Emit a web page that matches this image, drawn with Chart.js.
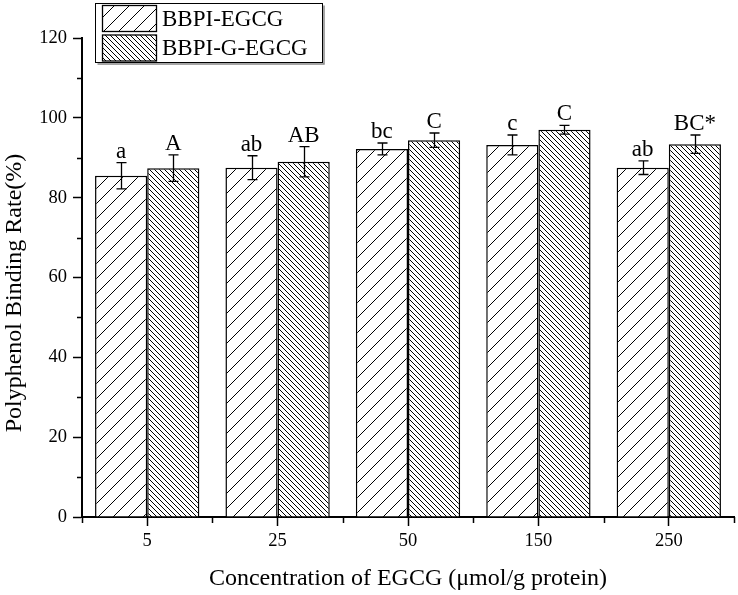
<!DOCTYPE html>
<html>
<head>
<meta charset="utf-8">
<script src="https://cdn.jsdelivr.net/npm/chart.js@4"></script>
<style>
  html, body { margin: 0; padding: 0; background: #fff; }
  #wrap { width: 738px; height: 595px; }
</style>
</head>
<body>
<div id="wrap"><canvas id="myChart" width="738" height="595"></canvas></div>
<script>
// data
var categories = ["5", "25", "50", "150", "250"];
var seriesNames = ["BBPI-EGCG", "BBPI-G-EGCG"];
var egcg = [85.5, 87.5, 92.2, 93.2, 87.5];
var egcgErr = [3.3, 3.0, 1.5, 2.5, 1.7];
var gEgcg = [87.4, 89.0, 94.4, 97.0, 93.4];
var gEgcgErr = [3.3, 3.8, 1.8, 1.1, 2.3];
var egcgLetters = ["a", "ab", "bc", "c", "ab"];
var gEgcgLetters = ["A", "AB", "C", "C", "BC*"];
var yTicks = [0, 20, 40, 60, 80, 100, 120];
var yMinorTicks = [10, 30, 50, 70, 90, 110];
var xTitle = "Concentration of EGCG (\u03bcmol/g protein)";
var yTitle = "Polyphenol Binding Rate(%)";

var serif = "'Liberation Serif', 'Times New Roman', serif";

// hatch patterns
function makeHatch(size, forward) {
  var c = document.createElement("canvas");
  c.width = size;
  c.height = size;
  var g = c.getContext("2d");
  g.fillStyle = "#fff";
  g.fillRect(0, 0, size, size);
  g.strokeStyle = "#000";
  g.lineWidth = 1;
  g.beginPath();
  if (forward) {
    g.moveTo(-1, size + 1); g.lineTo(size + 1, -1);
    g.moveTo(-1, 1); g.lineTo(1, -1);
    g.moveTo(size - 1, size + 1); g.lineTo(size + 1, size - 1);
  } else {
    g.moveTo(-1, -1); g.lineTo(size + 1, size + 1);
    g.moveTo(size - 1, -1); g.lineTo(size + 1, 1);
    g.moveTo(-1, size - 1); g.lineTo(1, size + 1);
  }
  g.stroke();
  return g.createPattern(c, "repeat");
}
var hatchA = makeHatch(15, true);
var hatchB = makeHatch(5, false);

var errors = [egcgErr, gEgcgErr];
var letters = [egcgLetters, gEgcgLetters];

// error bars, letters, minor ticks, legend, axis titles
var extras = {
  id: "extras",
  afterDatasetsDraw: function (chart) {
    var ctx = chart.ctx;
    var ys = chart.scales.y;
    ctx.save();
    ctx.strokeStyle = "#000";
    ctx.fillStyle = "#000";
    ctx.lineWidth = 1.3;
    ctx.font = "23px " + serif;
    ctx.textAlign = "center";
    ctx.textBaseline = "alphabetic";
    chart.data.datasets.forEach(function (ds, di) {
      var meta = chart.getDatasetMeta(di);
      meta.data.forEach(function (bar, i) {
        var v = ds.data[i];
        var e = errors[di][i];
        var x = Math.round(bar.x) + 0.5;
        var yt = ys.getPixelForValue(v + e);
        var yb = ys.getPixelForValue(v - e);
        ctx.beginPath();
        ctx.moveTo(x, yt); ctx.lineTo(x, yb);
        ctx.moveTo(x - 5, yt); ctx.lineTo(x + 5, yt);
        ctx.moveTo(x - 5, yb); ctx.lineTo(x + 5, yb);
        ctx.stroke();
        ctx.fillText(letters[di][i], bar.x, yt - 5);
      });
    });
    ctx.restore();
  },
  afterDraw: function (chart) {
    var ctx = chart.ctx;
    var xs = chart.scales.x;
    var ys = chart.scales.y;
    var area = chart.chartArea;
    ctx.save();
    ctx.strokeStyle = "#000";
    ctx.lineWidth = 1.5;
    // minor ticks
    ctx.beginPath();
    yMinorTicks.forEach(function (v) {
      var y = Math.round(ys.getPixelForValue(v)) + 0.5;
      ctx.moveTo(area.left - 5, y); ctx.lineTo(area.left, y);
    });
    var step = (area.right - area.left) / categories.length;
    for (var i = 0; i <= categories.length; i++) {
      var x = Math.round(area.left + i * step) + 0.5;
      ctx.moveTo(x, area.bottom); ctx.lineTo(x, area.bottom + 6);
    }
    ctx.stroke();

    // axis titles
    ctx.fillStyle = "#000";
    ctx.font = "24px " + serif;
    ctx.textAlign = "center";
    ctx.textBaseline = "middle";
    ctx.fillText(xTitle, (area.left + area.right) / 2, 579);
    ctx.save();
    ctx.translate(15, 293);
    ctx.rotate(-Math.PI / 2);
    ctx.fillText(yTitle, 0, 0);
    ctx.restore();

    // legend
    var lx = 95.5, ly = 3.5, lw = 227, lh = 59;
    ctx.strokeStyle = "#888";
    ctx.lineWidth = 1.5;
    ctx.beginPath();
    ctx.moveTo(lx + lw + 1.5, ly + 2); ctx.lineTo(lx + lw + 1.5, ly + lh + 1.5); ctx.lineTo(lx + 2, ly + lh + 1.5);
    ctx.stroke();
    ctx.fillStyle = "#fff";
    ctx.fillRect(lx, ly, lw, lh);
    ctx.strokeStyle = "#000";
    ctx.lineWidth = 1;
    ctx.strokeRect(lx, ly, lw, lh);
    var fills = [hatchA, hatchB];
    ctx.font = "23px " + serif;
    ctx.textAlign = "left";
    ctx.textBaseline = "middle";
    seriesNames.forEach(function (name, k) {
      var sy = 5.5 + k * 29.5;
      ctx.fillStyle = fills[k];
      ctx.fillRect(102.5, sy, 54, 26);
      ctx.lineWidth = 1.3;
      ctx.strokeRect(102.5, sy, 54, 26);
      ctx.fillStyle = "#000";
      ctx.fillText(name, 162, sy + 14);
    });
    ctx.restore();
  }
};

const ctx = document.getElementById("myChart");
window.chart = new Chart(ctx, {
  type: "bar",
  data: {
    labels: categories,
    datasets: [
      {
        label: seriesNames[0],
        data: egcg,
        backgroundColor: hatchA,
        borderColor: "#000",
        borderWidth: 1.5,
        borderSkipped: "bottom",
        categoryPercentage: 0.8,
        barPercentage: 1.0,
      },
      {
        label: seriesNames[1],
        data: gEgcg,
        backgroundColor: hatchB,
        borderColor: "#000",
        borderWidth: 1.5,
        borderSkipped: "bottom",
        categoryPercentage: 0.8,
        barPercentage: 1.0,
      },
    ],
  },
  options: {
    responsive: false,
    animation: false,
    devicePixelRatio: 1,
    layout: { padding: { left: 0, right: 4, top: 38, bottom: 0 } },
    plugins: { legend: { display: false }, tooltip: { enabled: false } },
    scales: {
      x: {
        offset: true,
        grid: {
          display: true,
          drawOnChartArea: false,
          offset: false,
          tickLength: 9,
          tickWidth: 1.5,
          tickColor: "#000",
        },
        border: { display: true, color: "#000", width: 2 },
        ticks: {
          color: "#000",
          font: { family: serif, size: 18.5 },
          padding: 4,
          maxRotation: 0,
        },
        afterFit: function (scale) { scale.height = 78; },
      },
      y: {
        min: 0,
        max: 120,
        afterBuildTicks: function (scale) {
          scale.ticks = yTicks.map(function (v) { return { value: v }; });
        },
        grid: {
          display: true,
          drawOnChartArea: false,
          tickLength: 9,
          tickWidth: 1.5,
          tickColor: "#000",
        },
        border: { display: true, color: "#000", width: 2 },
        ticks: {
          color: "#000",
          font: { family: serif, size: 18.5 },
          padding: 6,
        },
        afterFit: function (scale) { scale.width = 82; },
      },
    },
  },
  plugins: [extras],
});
</script>
</body>
</html>
